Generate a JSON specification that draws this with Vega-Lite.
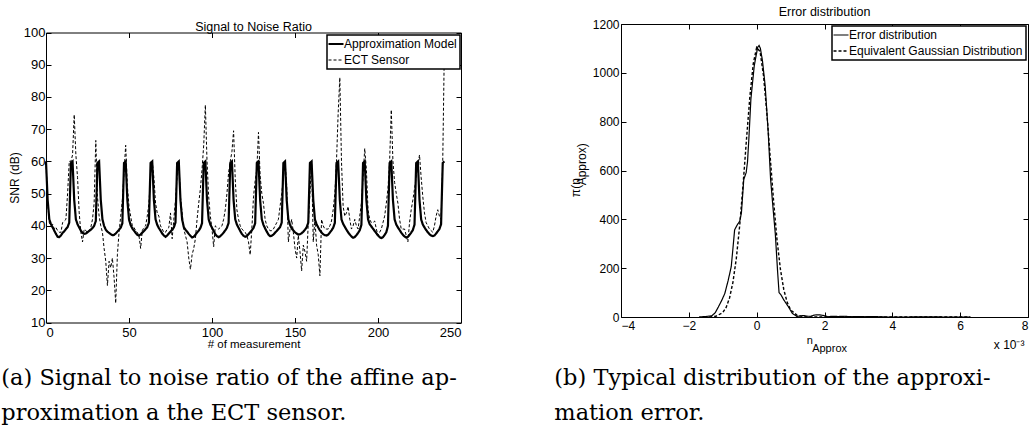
{
"$schema": "https://vega.github.io/schema/vega-lite/v6.json",
"background": "white",
"padding": {"left": 1, "top": 5, "right": 0, "bottom": 0},
"spacing": 92,
"resolve": {"scale": {"strokeDash": "independent"}, "legend": {"strokeDash": "independent"}},
"config": {
  "view": {"stroke": null},
  "font": "Liberation Sans",
  "axis": {"grid": false, "domainColor": "black", "domainWidth": 1, "tickColor": "black", "tickWidth": 1, "tickSize": -5, "labelPadding": 7, "labelColor": "black", "titleColor": "black", "labelFont": "Liberation Sans", "titleFont": "Liberation Sans", "titleFontWeight": "normal", "labelFontSize": 12, "titleFontSize": 12},
  "title": {"font": "Liberation Sans", "fontWeight": "normal", "color": "black", "fontSize": 12.5},
  "legend": {"orient": "top-right", "offset": 2, "strokeColor": "black", "fillColor": "white", "padding": 3, "cornerRadius": 0, "labelFont": "Liberation Sans", "labelFontSize": 12, "labelColor": "black", "labelOffset": 2, "labelLimit": 0, "rowPadding": 4, "symbolType": "stroke", "symbolSize": 225, "symbolStrokeColor": "black"}
},
"hconcat": [
{
  "resolve": {"scale": {"strokeDash": "independent"}, "legend": {"strokeDash": "independent"}},
  "title": {"text": ["(a) Signal to noise ratio of the affine ap-", "proximation a the ECT sensor."], "orient": "bottom", "anchor": "start", "font": "DejaVu Serif", "fontSize": 22.5, "lineHeight": 35, "offset": 17, "dx": -7, "fontWeight": "normal", "color": "black"},
  "vconcat": [
  {
    "width": 415, "height": 298.5,
    "title": {"text": "Signal to Noise Ratio", "offset": -9.5},
    "data": {"values": [
{"m":0,"a":60,"e":60},{"m":1,"a":48,"e":47},{"m":2,"a":42,"e":41},{"m":3,"a":40.5,"e":40},{"m":4,"a":39.5,"e":40.5},{"m":5,"a":38.5,"e":39},{"m":6,"a":37.5,"e":39.5},{"m":7,"a":36.6,"e":38.5},{"m":8,"a":36.5,"e":38},{"m":9,"a":37,"e":38},
{"m":10,"a":37.8,"e":41},{"m":11,"a":38.3,"e":41.5},{"m":12,"a":39,"e":42},{"m":13,"a":39.6,"e":50},{"m":14,"a":41,"e":60},{"m":15,"a":59.5,"e":60},{"m":16,"a":60,"e":62},{"m":17,"a":48,"e":74.5},{"m":18,"a":42,"e":62},{"m":19,"a":40.5,"e":55},
{"m":20,"a":39.5,"e":44},{"m":21,"a":38.5,"e":38},{"m":22,"a":37.8,"e":35},{"m":23,"a":37.5,"e":39},{"m":24,"a":37.6,"e":38.5},{"m":25,"a":38,"e":38},{"m":26,"a":38.4,"e":38.5},{"m":27,"a":38.8,"e":39.5},{"m":28,"a":39.3,"e":42},{"m":29,"a":40,"e":47},
{"m":30,"a":41.5,"e":66.5},{"m":31,"a":59.5,"e":49},{"m":32,"a":60,"e":43},{"m":33,"a":48,"e":40},{"m":34,"a":42,"e":38},{"m":35,"a":40,"e":33},{"m":36,"a":38.8,"e":29},{"m":37,"a":38.2,"e":21.5},{"m":38,"a":37.8,"e":29},{"m":39,"a":37.4,"e":27},
{"m":40,"a":37.1,"e":30},{"m":41,"a":37.2,"e":24},{"m":42,"a":37.6,"e":16},{"m":43,"a":38.2,"e":31},{"m":44,"a":38.8,"e":38},{"m":45,"a":39.4,"e":43},{"m":46,"a":40.8,"e":48},{"m":47,"a":59.5,"e":56.5},{"m":48,"a":60,"e":65},{"m":49,"a":48,"e":52.5},
{"m":50,"a":42,"e":46},{"m":51,"a":40.2,"e":43},{"m":52,"a":39.2,"e":40},{"m":53,"a":38.5,"e":39.5},{"m":54,"a":37.8,"e":38.5},{"m":55,"a":37.2,"e":38},{"m":56,"a":37,"e":37},{"m":57,"a":37.3,"e":33},{"m":58,"a":37.9,"e":38.5},{"m":59,"a":38.4,"e":39.5},
{"m":60,"a":39,"e":40},{"m":61,"a":39.6,"e":43},{"m":62,"a":41,"e":47},{"m":63,"a":59.5,"e":55.5},{"m":64,"a":60,"e":60},{"m":65,"a":48,"e":55},{"m":66,"a":42,"e":47},{"m":67,"a":40.3,"e":44},{"m":68,"a":39.3,"e":43},{"m":69,"a":38.5,"e":40},
{"m":70,"a":37.6,"e":39},{"m":71,"a":37,"e":38},{"m":72,"a":36.6,"e":38},{"m":73,"a":37,"e":39},{"m":74,"a":37.6,"e":39.5},{"m":75,"a":38.2,"e":44},{"m":76,"a":38.8,"e":36},{"m":77,"a":39.5,"e":42},{"m":78,"a":41,"e":48},{"m":79,"a":59.5,"e":55.5},
{"m":80,"a":60,"e":60},{"m":81,"a":48,"e":49},{"m":82,"a":42,"e":44},{"m":83,"a":39.6,"e":39},{"m":84,"a":38.8,"e":37},{"m":85,"a":38.2,"e":35},{"m":86,"a":37.5,"e":30},{"m":87,"a":36.9,"e":26.5},{"m":88,"a":36.4,"e":31},{"m":89,"a":36.6,"e":33},
{"m":90,"a":37.2,"e":36},{"m":91,"a":37.9,"e":42},{"m":92,"a":38.5,"e":47},{"m":93,"a":39.3,"e":51.5},{"m":94,"a":40.8,"e":57.5},{"m":95,"a":59.5,"e":65},{"m":96,"a":60,"e":77.5},{"m":97,"a":48,"e":60},{"m":98,"a":42,"e":49},{"m":99,"a":40.4,"e":43},
{"m":100,"a":39.4,"e":39},{"m":101,"a":38.4,"e":33.5},{"m":102,"a":37.4,"e":40},{"m":103,"a":36.8,"e":39.5},{"m":104,"a":36.5,"e":39},{"m":105,"a":36.8,"e":39.5},{"m":106,"a":37.3,"e":40},{"m":107,"a":37.9,"e":42},{"m":108,"a":38.6,"e":45},{"m":109,"a":39.4,"e":50},
{"m":110,"a":40.9,"e":56.5},{"m":111,"a":59.5,"e":60},{"m":112,"a":60,"e":63},{"m":113,"a":48,"e":69.5},{"m":114,"a":42,"e":54.5},{"m":115,"a":40.4,"e":45},{"m":116,"a":39.4,"e":42},{"m":117,"a":38.4,"e":40},{"m":118,"a":37.5,"e":39},{"m":119,"a":36.9,"e":38.5},
{"m":120,"a":36.6,"e":38},{"m":121,"a":36.8,"e":37},{"m":122,"a":37.4,"e":35},{"m":123,"a":38,"e":31},{"m":124,"a":38.6,"e":39},{"m":125,"a":39.3,"e":49},{"m":126,"a":40.8,"e":54},{"m":127,"a":59.5,"e":57.5},{"m":128,"a":60,"e":69},{"m":129,"a":48,"e":55.5},
{"m":130,"a":42,"e":50},{"m":131,"a":40.3,"e":47},{"m":132,"a":39.2,"e":42},{"m":133,"a":38.2,"e":40},{"m":134,"a":37.3,"e":39},{"m":135,"a":36.8,"e":38.5},{"m":136,"a":36.9,"e":38.5},{"m":137,"a":37.3,"e":39},{"m":138,"a":37.9,"e":40},{"m":139,"a":38.4,"e":41},
{"m":140,"a":39,"e":42},{"m":141,"a":39.6,"e":46},{"m":142,"a":41,"e":50},{"m":143,"a":59.5,"e":55},{"m":144,"a":60,"e":60},{"m":145,"a":48,"e":52.5},{"m":146,"a":42,"e":35},{"m":147,"a":40.3,"e":39},{"m":148,"a":39.2,"e":42},{"m":149,"a":38.6,"e":38},
{"m":150,"a":38,"e":33},{"m":151,"a":37.6,"e":30},{"m":152,"a":37.3,"e":37},{"m":153,"a":37.4,"e":32},{"m":154,"a":37.7,"e":26},{"m":155,"a":38.2,"e":34},{"m":156,"a":38.8,"e":32},{"m":157,"a":39.5,"e":29},{"m":158,"a":41,"e":41},{"m":159,"a":59.5,"e":50},
{"m":160,"a":60,"e":60},{"m":161,"a":48,"e":35},{"m":162,"a":42,"e":42},{"m":163,"a":40.5,"e":34},{"m":164,"a":39.5,"e":31},{"m":165,"a":38.6,"e":24.5},{"m":166,"a":37.9,"e":42},{"m":167,"a":37.4,"e":40},{"m":168,"a":37.1,"e":39},{"m":169,"a":37,"e":39},
{"m":170,"a":37.3,"e":39},{"m":171,"a":37.9,"e":40},{"m":172,"a":38.6,"e":41.5},{"m":173,"a":39.4,"e":45},{"m":174,"a":40.9,"e":50},{"m":175,"a":59.5,"e":60},{"m":176,"a":60,"e":75},{"m":177,"a":48,"e":86},{"m":178,"a":42,"e":60},{"m":179,"a":40.6,"e":46},
{"m":180,"a":39.7,"e":43},{"m":181,"a":38.8,"e":44},{"m":182,"a":38,"e":46},{"m":183,"a":37.3,"e":42},{"m":184,"a":36.7,"e":39},{"m":185,"a":36.3,"e":40},{"m":186,"a":36.5,"e":42},{"m":187,"a":37.1,"e":40},{"m":188,"a":37.8,"e":39},{"m":189,"a":38.6,"e":43},
{"m":190,"a":40.3,"e":47},{"m":191,"a":59.5,"e":55},{"m":192,"a":60,"e":64},{"m":193,"a":48,"e":57.5},{"m":194,"a":42,"e":45},{"m":195,"a":40.5,"e":42},{"m":196,"a":39.8,"e":41},{"m":197,"a":39.1,"e":41},{"m":198,"a":38.4,"e":41.5},{"m":199,"a":37.7,"e":39},
{"m":200,"a":37,"e":37},{"m":201,"a":36.5,"e":38},{"m":202,"a":36.2,"e":39},{"m":203,"a":36.5,"e":41},{"m":204,"a":37.2,"e":43},{"m":205,"a":38,"e":47},{"m":206,"a":40,"e":51.5},{"m":207,"a":59.5,"e":60},{"m":208,"a":60,"e":76},{"m":209,"a":48,"e":60},
{"m":210,"a":42,"e":53.5},{"m":211,"a":40.4,"e":50},{"m":212,"a":39.5,"e":47},{"m":213,"a":38.7,"e":42},{"m":214,"a":37.9,"e":39},{"m":215,"a":37.2,"e":39},{"m":216,"a":36.7,"e":39},{"m":217,"a":36.4,"e":37},{"m":218,"a":36.6,"e":35},{"m":219,"a":37.2,"e":41},
{"m":220,"a":37.9,"e":45},{"m":221,"a":38.7,"e":48},{"m":222,"a":40.4,"e":51.5},{"m":223,"a":59.5,"e":55},{"m":224,"a":60,"e":58.5},{"m":225,"a":48,"e":62},{"m":226,"a":42,"e":55},{"m":227,"a":40.4,"e":49},{"m":228,"a":39.5,"e":44},{"m":229,"a":38.7,"e":41},
{"m":230,"a":38,"e":40},{"m":231,"a":37.4,"e":39},{"m":232,"a":37,"e":38.5},{"m":233,"a":36.8,"e":38},{"m":234,"a":37,"e":40},{"m":235,"a":37.6,"e":43},{"m":236,"a":38.3,"e":45},{"m":237,"a":39,"e":43},{"m":238,"a":40.5,"e":42},{"m":239,"a":59.5,"e":60},
{"m":240,"a":60,"e":96}
    ]},
    "layer": [
      {
        "mark": {"type": "line", "color": "black", "strokeWidth": 2.2},
        "encoding": {
          "x": {"field": "m", "type": "quantitative", "scale": {"domain": [0, 250], "nice": false}, "axis": {"orient": "bottom", "title": "# of measurement", "values": [0, 50, 100, 150, 200, 250], "labelFontSize": 13, "labelPadding": 9, "titleFontSize": 11.5, "titlePadding": -1}},
          "y": {"field": "a", "type": "quantitative", "scale": {"domain": [10, 100], "nice": false, "range": [298.5, 8.5]}, "axis": {"orient": "left", "title": "SNR (dB)", "values": [10, 20, 30, 40, 50, 60, 70, 80, 90, 100], "labelFontSize": 13, "labelPadding": 6, "titleFontSize": 12, "titlePadding": 2}},
          "strokeDash": {"datum": "Approximation Model", "type": "nominal", "scale": {"domain": ["Approximation Model", "ECT Sensor"], "range": [[1, 0], [3, 2]]}, "legend": {"title": null, "orient": "none", "legendX": 281, "legendY": 11, "encode": {"symbols": {"update": {"strokeWidth": {"signal": "datum.value === 'Approximation Model' ? 2.2 : 1"}}}, "legend": {"update": {"strokeWidth": {"value": 1.5}}}}}}
        }
      },
      {
        "mark": {"type": "line", "color": "black", "strokeWidth": 1},
        "encoding": {
          "x": {"field": "m", "type": "quantitative", "scale": {"domain": [0, 250], "nice": false}, "axis": {"orient": "top", "title": null, "labels": false, "offset": -8.5, "values": [0, 50, 100, 150, 200, 250]}},
          "y": {"field": "e", "type": "quantitative", "scale": {"domain": [10, 100], "nice": false, "range": [298.5, 8.5]}, "axis": {"orient": "right", "title": null, "labels": false, "values": [10, 20, 30, 40, 50, 60, 70, 80, 90, 100]}},
          "strokeDash": {"datum": "ECT Sensor", "type": "nominal", "scale": {"domain": ["Approximation Model", "ECT Sensor"], "range": [[1, 0], [3, 2]]}, "legend": {"title": null, "orient": "none", "legendX": 281, "legendY": 11, "encode": {"symbols": {"update": {"strokeWidth": {"signal": "datum.value === 'Approximation Model' ? 2.2 : 1"}}}, "legend": {"update": {"strokeWidth": {"value": 1.5}}}}}}
        }
      }
    ],
    "resolve": {"axis": {"x": "independent", "y": "independent"}}
  }
  ]
},
{
  "resolve": {"scale": {"strokeDash": "independent"}, "legend": {"strokeDash": "independent"}},
  "title": {"text": ["(b) Typical distribution of the approxi-", "mation error."], "orient": "bottom", "anchor": "start", "font": "DejaVu Serif", "fontSize": 22.5, "lineHeight": 35, "offset": 14, "dx": -15, "fontWeight": "normal", "color": "black"},
  "vconcat": [
  {
    "width": 407, "height": 293,
    "title": {"text": "Error distribution", "offset": 0},
    "layer": [
      {
        "data": {"values": [
{"x":-1.7,"y":0},{"x":-1.5,"y":2},{"x":-1.32,"y":5},{"x":-1.22,"y":18},{"x":-1.13,"y":41},{"x":-1.03,"y":68},{"x":-0.94,"y":96},{"x":-0.84,"y":150},{"x":-0.75,"y":206},{"x":-0.7,"y":280},
{"x":-0.65,"y":357},{"x":-0.57,"y":378},{"x":-0.5,"y":392},{"x":-0.45,"y":426},{"x":-0.38,"y":564},{"x":-0.31,"y":591},{"x":-0.27,"y":635},{"x":-0.23,"y":730},{"x":-0.17,"y":893},{"x":-0.07,"y":1030},
{"x":0.03,"y":1105},{"x":0.07,"y":1112},{"x":0.11,"y":1100},{"x":0.17,"y":1050},{"x":0.25,"y":948},{"x":0.34,"y":757},{"x":0.41,"y":566},{"x":0.48,"y":450},{"x":0.55,"y":340},{"x":0.62,"y":180},
{"x":0.66,"y":100},{"x":0.72,"y":90},{"x":0.8,"y":70},{"x":0.94,"y":41},{"x":1.05,"y":15},{"x":1.19,"y":2},{"x":1.3,"y":5},{"x":1.4,"y":6},{"x":1.5,"y":3},{"x":1.6,"y":3},
{"x":1.7,"y":8},{"x":1.8,"y":9},{"x":1.9,"y":8},{"x":2.0,"y":5},{"x":2.1,"y":1},{"x":2.2,"y":3},{"x":2.4,"y":2},{"x":2.6,"y":3},{"x":2.8,"y":1},{"x":3.0,"y":2},
{"x":3.2,"y":1},{"x":3.4,"y":2},{"x":3.6,"y":1},{"x":3.8,"y":0},{"x":4.5,"y":0},{"x":5.0,"y":1},{"x":5.5,"y":0},{"x":6.3,"y":0}
        ]},
        "mark": {"type": "line", "color": "black", "strokeWidth": 1.2},
        "encoding": {
          "x": {"field": "x", "type": "quantitative", "scale": {"domain": [-4, 8], "nice": false}, "axis": {"orient": "bottom", "title": ["n\u00a0\u00a0\u00a0\u00a0\u00a0\u00a0\u00a0\u00a0\u00a0\u00a0\u200b", "\u200b\u00a0\u00a0\u00a0Approx"], "titleFontSize": 11, "titleLineHeight": 8, "titlePadding": 3, "labelPadding": 8, "values": [-4, -2, 0, 2, 4, 6, 8]}},
          "y": {"field": "y", "type": "quantitative", "scale": {"domain": [0, 1200], "nice": false}, "axis": {"orient": "left", "format": "d", "title": ["π(n\u00a0\u00a0\u00a0\u00a0\u00a0\u00a0\u00a0\u00a0\u00a0\u00a0\u200b", "\u200b\u00a0\u00a0\u00a0\u00a0Approx)"], "titleFontSize": 12, "titleLineHeight": 6, "titlePadding": 4, "values": [0, 200, 400, 600, 800, 1000, 1200]}},
          "strokeDash": {"datum": "Error distribution", "type": "nominal", "scale": {"domain": ["Error distribution", "Equivalent Gaussian Distribution"], "range": [[1, 0], [3, 2]]}, "legend": {"title": null, "encode": {"symbols": {"update": {"strokeWidth": {"signal": "datum.value === 'Error distribution' ? 1.2 : 1.4"}}}, "legend": {"update": {"strokeWidth": {"value": 1.5}}}}}}
        }
      },
      {
        "data": {"values": [
{"x":-1.4,"y":0.4},{"x":-1.2,"y":3},{"x":-1.0,"y":18},{"x":-0.9,"y":39},{"x":-0.8,"y":78},{"x":-0.7,"y":142},{"x":-0.6,"y":240},{"x":-0.5,"y":375},{"x":-0.4,"y":543},{"x":-0.3,"y":728},
{"x":-0.2,"y":903},{"x":-0.1,"y":1038},{"x":0.0,"y":1104},{"x":0.1,"y":1087},{"x":0.2,"y":991},{"x":0.3,"y":837},{"x":0.4,"y":653},{"x":0.5,"y":473},{"x":0.6,"y":316},{"x":0.7,"y":196},
{"x":0.8,"y":112},{"x":0.9,"y":60},{"x":1.0,"y":29},{"x":1.2,"y":6},{"x":1.4,"y":1},{"x":1.6,"y":0},{"x":6.3,"y":0}
        ]},
        "mark": {"type": "line", "color": "black", "strokeWidth": 1.4},
        "encoding": {
          "x": {"field": "x", "type": "quantitative", "scale": {"domain": [-4, 8], "nice": false}, "axis": {"orient": "top", "title": null, "labels": false, "values": [-4, -2, 0, 2, 4, 6, 8]}},
          "y": {"field": "y", "type": "quantitative", "scale": {"domain": [0, 1200], "nice": false}, "axis": {"orient": "right", "labels": false, "values": [0, 200, 400, 600, 800, 1000, 1200], "title": "x 10⁻³", "titleAngle": 0, "titleAlign": "right", "titleBaseline": "middle", "titleX": -4, "titleY": 320, "titleFontSize": 12}},
          "strokeDash": {"datum": "Equivalent Gaussian Distribution", "type": "nominal", "scale": {"domain": ["Error distribution", "Equivalent Gaussian Distribution"], "range": [[1, 0], [3, 2]]}, "legend": {"title": null, "encode": {"symbols": {"update": {"strokeWidth": {"signal": "datum.value === 'Error distribution' ? 1.2 : 1.4"}}}, "legend": {"update": {"strokeWidth": {"value": 1.5}}}}}}
        }
      }
    ],
    "resolve": {"axis": {"x": "independent", "y": "independent"}}
  }
  ]
}
]
}
